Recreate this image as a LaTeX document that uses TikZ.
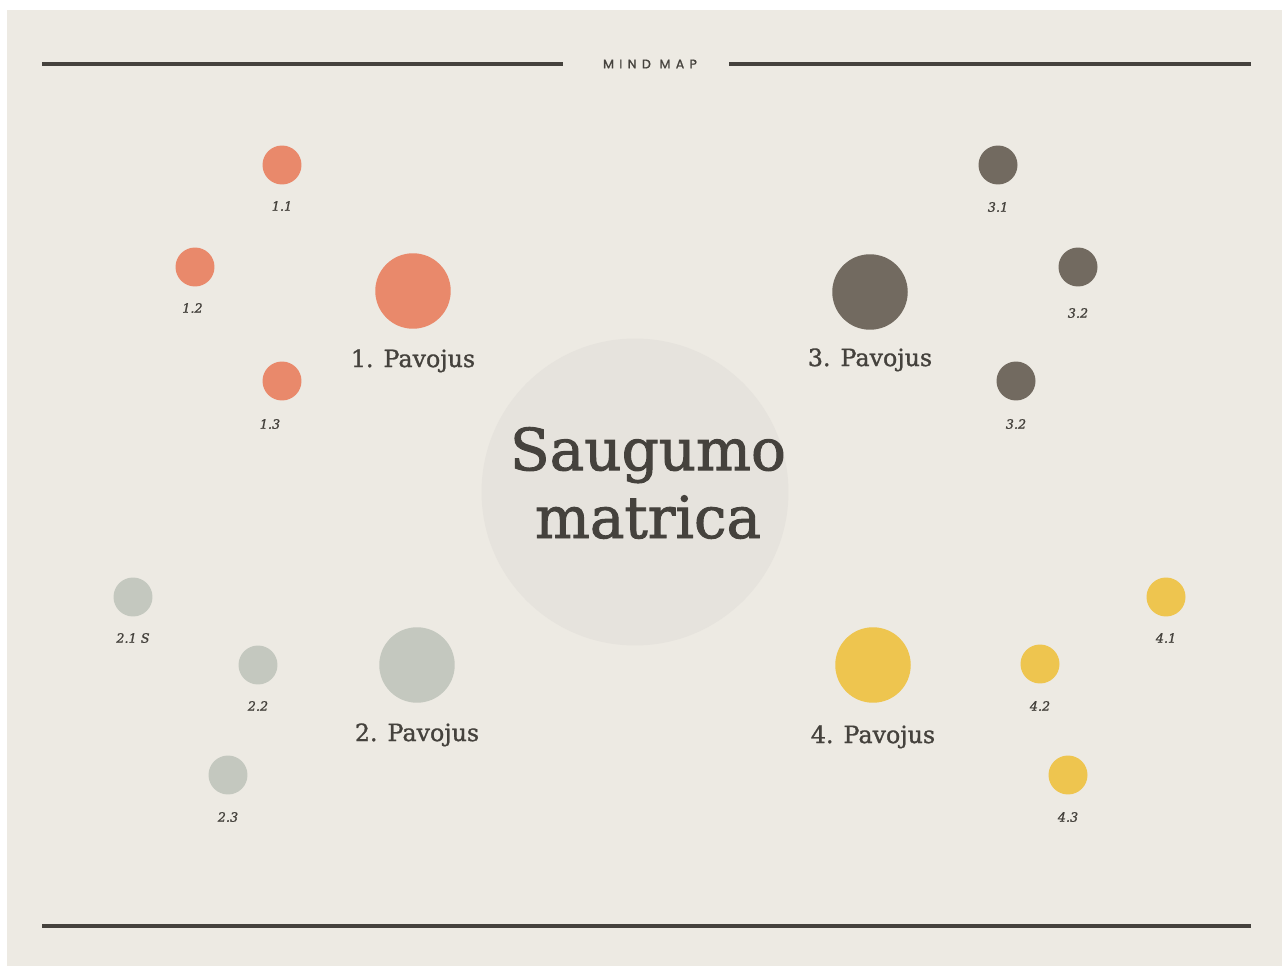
\documentclass[tikz,border=0pt]{standalone}
\usepackage{fontspec}
\setmainfont{DejaVu Serif}
\newfontfamily\heavyserif[FakeBold=1.6]{DejaVu Serif}
\newfontfamily\midserif[FakeBold=1.2]{DejaVu Serif}
\newfontfamily\mapfont[LetterSpace=42,FakeBold=1.2]{Poppins}
\usepackage{xcolor}
\usepackage{tikz}
\usetikzlibrary{positioning}
\definecolor{mappaper}{HTML}{EDEAE3}
\definecolor{hubgrey}{HTML}{E6E3DD}
\definecolor{mapink}{HTML}{45423D}
\definecolor{riskcoral}{HTML}{E9896B}
\definecolor{risksage}{HTML}{C4C8BF}
\definecolor{riskslate}{HTML}{726A60}
\definecolor{riskgold}{HTML}{EEC54F}
\tikzset{
  hub/.style={circle, fill=hubgrey, minimum size=6.14cm, inner sep=0pt},
  hubtext/.style={align=center, text=mapink, inner sep=0pt, font=\heavyserif\fontsize{33}{38.6}\selectfont},
  bigdot/.style={circle, minimum size=1.51cm, inner sep=0pt},
  smalldot/.style={circle, minimum size=0.78cm, inner sep=0pt},
  risklabel/.style={text=mapink, inner sep=0pt, font=\midserif\fontsize{13.5}{15}\selectfont},
  sublabel/.style={text=mapink, inner sep=0pt, font=\midserif\fontsize{7.3}{8}\selectfont\itshape},
  rulebar/.style={draw=mapink, line width=2pt},
}

\begin{document}
\begin{tikzpicture}[x=0.02cm, y=-0.02cm, node distance=0.32cm]
  \fill[white] (0,0) rectangle (1282,966);
  \fill[mappaper] (7,10) rectangle (1282,966);
  \useasboundingbox (0,0) rectangle (1282,966);

  \node[text=mapink, inner sep=0pt, font=\mapfont\fontsize{7.2}{8}\selectfont] (maptitle) at (650,64) {MIND MAP};
  \draw[rulebar] (42,64) -- (563,64);
  \draw[rulebar] (729,64) -- (1251,64);
  \draw[rulebar] (42,926) -- (1251,926);

  \node[hub] (hub) at (635,492) {};
  \node[hubtext] (hubname) at ([xshift=0.26cm,yshift=0.18cm]hub.center) {Saugumo\\matrica};

  \node[bigdot,fill=riskcoral] (r1) at (413,291) {};
  \node[bigdot,fill=risksage] (r2) at (417,665) {};
  \node[bigdot,fill=riskslate] (r3) at (870,292) {};
  \node[bigdot,fill=riskgold] (r4) at (873,665) {};
  \node[risklabel,below=0.4cm of r1] (r1name) {1. Pavojus};
  \node[risklabel,below=0.4cm of r2] (r2name) {2. Pavojus};
  \node[risklabel,below=0.36cm of r3] (r3name) {3. Pavojus};
  \node[risklabel,below=0.44cm of r4] (r4name) {4. Pavojus};

  \node[smalldot,fill=riskcoral] (r11) at (282,165) {};
  \node[smalldot,fill=riskcoral] (r12) at (195,267) {};
  \node[smalldot,fill=riskcoral] (r13) at (282,381) {};
  \node[sublabel,below=of r11] (r11name) {1.1};
  \node[sublabel,below=of r12,xshift=-0.05cm] (r12name) {1.2};
  \node[sublabel,below=0.36cm of r13,xshift=-0.24cm] (r13name) {1.3};

  \node[smalldot,fill=risksage] (r21) at (133,597) {};
  \node[smalldot,fill=risksage] (r22) at (258,665) {};
  \node[smalldot,fill=risksage] (r23) at (228,775) {};
  \node[sublabel,below=of r21] (r21name) {2.1 S};
  \node[sublabel,below=of r22] (r22name) {2.2};
  \node[sublabel,below=0.34cm of r23] (r23name) {2.3};

  \node[smalldot,fill=riskslate] (r31) at (998,165) {};
  \node[smalldot,fill=riskslate] (r32) at (1078,267) {};
  \node[smalldot,fill=riskslate] (r33) at (1016,381) {};
  \node[sublabel,below=0.34cm of r31] (r31name) {3.1};
  \node[sublabel,below=0.42cm of r32] (r32name) {3.2};
  \node[sublabel,below=0.36cm of r33] (r33name) {3.2};

  \node[smalldot,fill=riskgold] (r41) at (1166,597) {};
  \node[smalldot,fill=riskgold] (r42) at (1040,664) {};
  \node[smalldot,fill=riskgold] (r43) at (1068,775) {};
  \node[sublabel,below=of r41] (r41name) {4.1};
  \node[sublabel,below=0.34cm of r42] (r42name) {4.2};
  \node[sublabel,below=0.34cm of r43] (r43name) {4.3};
\end{tikzpicture}
\end{document}
